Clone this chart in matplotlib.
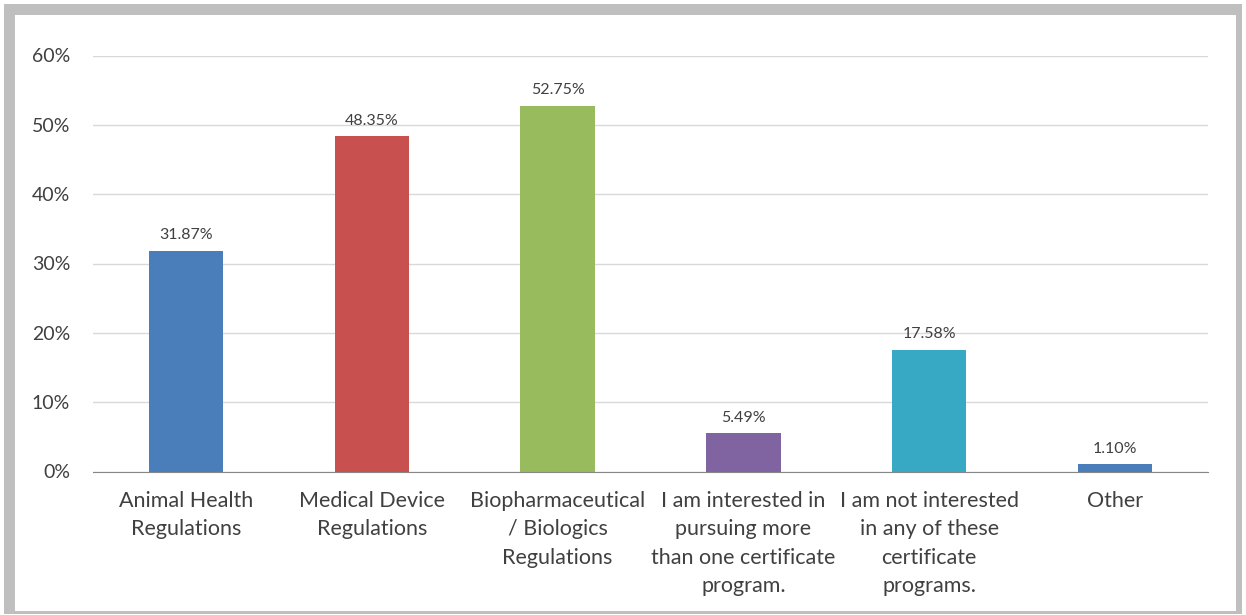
import matplotlib.pyplot as plt
import matplotlib.patches as patches
import numpy as np

# Survey results
categories = [
    "Animal Health\nRegulations",
    "Medical Device\nRegulations",
    "Biopharmaceutical\n/ Biologics\nRegulations",
    "I am interested in\npursuing more\nthan one certificate\nprogram.",
    "I am not interested\nin any of these\ncertificate\nprograms.",
    "Other",
]
values = [31.87, 48.35, 52.75, 5.49, 17.58, 1.10]
colors = ["#4A7EBB", "#C8504E", "#98BB5E", "#8064A2", "#38A9C4", "#4A7EBB"]

plt.rcParams['font.family'] = ['Lato', 'DejaVu Sans']

fig = plt.figure(figsize=(12.46, 6.15), dpi=100)
W, H = 1246, 615

# grey frame around the chart
fig.patches.append(patches.Rectangle((4 / W, 1 - 614 / H), 1238 / W, 610 / H,
                                     transform=fig.transFigure, facecolor="#BFBFBF",
                                     edgecolor="none", zorder=-10))
fig.patches.append(patches.Rectangle((15 / W, 1 - 611 / H), 1221 / W, 596 / H,
                                     transform=fig.transFigure, facecolor="white",
                                     edgecolor="none", zorder=-9))

# plot area: x 93..1208, y 55.5..471.5 px
ax = fig.add_axes([93 / W, 1 - 471.5 / H, (1208 - 93) / W, (471.5 - 55.5) / H])
ax.patch.set_alpha(0)

x = np.arange(len(categories))
ax.bar(x, values, width=0.4, color=colors, zorder=3)

for xi, v in zip(x, values):
    ax.text(xi, v + 1.2, f"{v:.2f}%", ha="center", va="bottom", fontsize=11.5, color="#404040")

ax.set_xlim(-0.5, len(categories) - 0.5)
ax.set_ylim(0, 60)
ax.set_yticks(np.arange(0, 61, 10))
ax.set_yticklabels([f"{t}%" for t in range(0, 61, 10)], fontsize=14, color="#404040")
ax.set_xticks(x)
ax.set_xticklabels(categories, fontsize=15.5, color="#404040", linespacing=1.53, va="top")

ax.grid(axis="y", color="#D9D9D9", linewidth=1, zorder=0)
for s in ["top", "right", "left"]:
    ax.spines[s].set_visible(False)
ax.spines["bottom"].set_color("#868686")
ax.spines["bottom"].set_zorder(4)
ax.tick_params(length=0)
ax.tick_params(axis="y", pad=16.5)
ax.tick_params(axis="x", pad=14)

fig.savefig("out.png", dpi=100)
